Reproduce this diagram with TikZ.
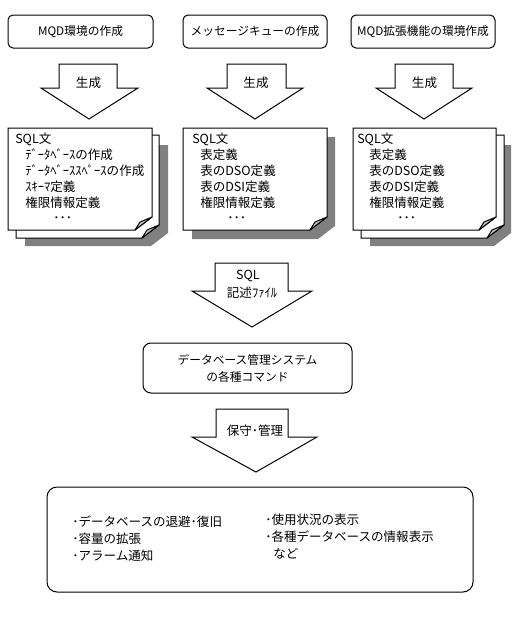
\documentclass[tikz,border=0pt]{standalone}
\usepackage{fontspec}
\setmainfont{Noto Sans CJK JP}
\definecolor{shadowgray}{HTML}{808080}
\definecolor{flapgray}{HTML}{C0C0C0}
\newcommand{\cutpage}[5]{\path[#5] (#1,#2) -- (#3,#2) -- (#3,{#4-13}) -- ({#3-17},#4) -- (#1,#4) -- cycle;}
\newcommand{\pageflap}[2]{\path[flap] (#1,{#2-13}) -- ({#1-12},{#2-8}) -- ({#1-17},#2) -- cycle;}
\tikzset{
  txt/.style={inner sep=0pt, anchor=west, text height=8.2pt, text depth=1.2pt, font=\fontsize{9.4}{11}\selectfont},
  ctxt/.style={txt, anchor=center},
  tbox/.style={draw, line width=0.75pt, rounded corners=3.75pt, minimum height=24.75pt, inner sep=0pt, fill=white, font=\fontsize{8.8}{10}\selectfont},
  barrow/.style={draw, fill=white, line width=0.75pt, line join=miter},
  shadowfill/.style={fill=shadowgray},
  pagefill/.style={draw, fill=white, line width=0.75pt},
  flap/.style={draw, fill=flapgray, line width=0.75pt, line join=round},
}
\begin{document}
\begin{tikzpicture}[x=0.75pt, y=-0.75pt]
\useasboundingbox (0,0) rectangle (528,625);
% top boxes
\node[tbox, minimum width=108.75pt] (b1) at (80.5,31.5) {MQD環境の作成};
\node[tbox, minimum width=108pt] (b2) at (255,31.5) {メッセージキューの作成};
\node[tbox, minimum width=108pt] (b3) at (423,31.5) {MQD拡張機能の環境作成};
% arrows "生成"
\draw[barrow] (59,64) -- (117,64) -- (117,88) -- (138,88) -- (89,119) -- (41,88) -- (59,88) -- cycle;
\draw[barrow] (227,64) -- (286,64) -- (286,88) -- (303,88) -- (255,119) -- (207,88) -- (227,88) -- cycle;
\draw[barrow] (395,64) -- (453,64) -- (453,88) -- (472,88) -- (424,119) -- (376,88) -- (395,88) -- cycle;
\node[ctxt] (g1) at (88.5,83) {生成};
\node[ctxt] (g2) at (256,83) {生成};
\node[ctxt] (g3) at (424.5,83) {生成};
% document 1
\cutpage{25}{145}{168}{246}{shadowfill}
\cutpage{16}{135}{159}{238}{pagefill}
\pageflap{159}{238}
\cutpage{8}{128}{152}{230}{pagefill}
\pageflap{152}{230}
% document 2
\cutpage{192}{137}{335}{239}{shadowfill}
\cutpage{183}{128}{327}{230}{pagefill}
\pageflap{327}{230}
% document 3
\cutpage{370}{145}{511}{246}{shadowfill}
\cutpage{361}{135}{504}{238}{pagefill}
\pageflap{504}{238}
\cutpage{353}{128}{496}{230}{pagefill}
\pageflap{496}{230}
% document texts
\node[txt] (d1a) at (15,139) {SQL文};
\node[txt] (d1b) at (25,155) {ﾃﾞｰﾀﾍﾞｰｽの作成};
\node[txt] (d1c) at (25,171) {ﾃﾞｰﾀﾍﾞｰｽｽﾍﾟｰｽの作成};
\node[txt] (d1d) at (25,187) {ｽｷｰﾏ定義};
\node[txt] (d1e) at (25,203) {権限情報定義};
\node[txt] (d1f) at (53,218) {･･･};
\node[txt] (d2a) at (192,139) {SQL文};
\node[txt] (d2b) at (200,155) {表定義};
\node[txt] (d2c) at (200,171) {表のDSO定義};
\node[txt] (d2d) at (200,187) {表のDSI定義};
\node[txt] (d2e) at (200,203) {権限情報定義};
\node[txt] (d2f) at (227,218) {･･･};
\node[txt] (d3a) at (357,139) {SQL文};
\node[txt] (d3b) at (369,155) {表定義};
\node[txt] (d3c) at (369,171) {表のDSO定義};
\node[txt] (d3d) at (369,187) {表のDSI定義};
\node[txt] (d3e) at (369,203) {権限情報定義};
\node[txt] (d3f) at (397,218) {･･･};
% SQL file arrow
\draw[barrow] (215,263) -- (288,263) -- (288,291) -- (312,291) -- (252,327) -- (192,291) -- (215,291) -- cycle;
\node[ctxt] (s1) at (248,275) {SQL};
\node[ctxt] (s2) at (252,293) {記述ﾌｧｲﾙ};
% middle box
\node[tbox, rounded corners=6pt, minimum width=156.75pt, minimum height=37.5pt, align=center, font=\fontsize{8.8}{12.75}\selectfont] (m) at (247.5,368) {データベース管理システム\\の各種コマンド};
% maintenance arrow
\draw[barrow] (216,409) -- (288,409) -- (288,437) -- (317,437) -- (256,472) -- (192,437) -- (216,437) -- cycle;
\node[ctxt] (h1) at (255,431) {保守･管理};
% bottom box
\node[tbox, rounded corners=7.5pt, minimum width=319.5pt, minimum height=78.75pt] (bb) at (260,539.5) {};
\node[txt] (t1) at (72,522) {･データベースの退避･復旧};
\node[txt] (t2) at (72,539) {･容量の拡張};
\node[txt] (t3) at (72,556) {･アラーム通知};
\node[txt] (u1) at (265,520) {･使用状況の表示};
\node[txt] (u2) at (265,537) {･各種データベースの情報表示};
\node[txt] (u3) at (273,554) {など};
\end{tikzpicture}
\end{document}
